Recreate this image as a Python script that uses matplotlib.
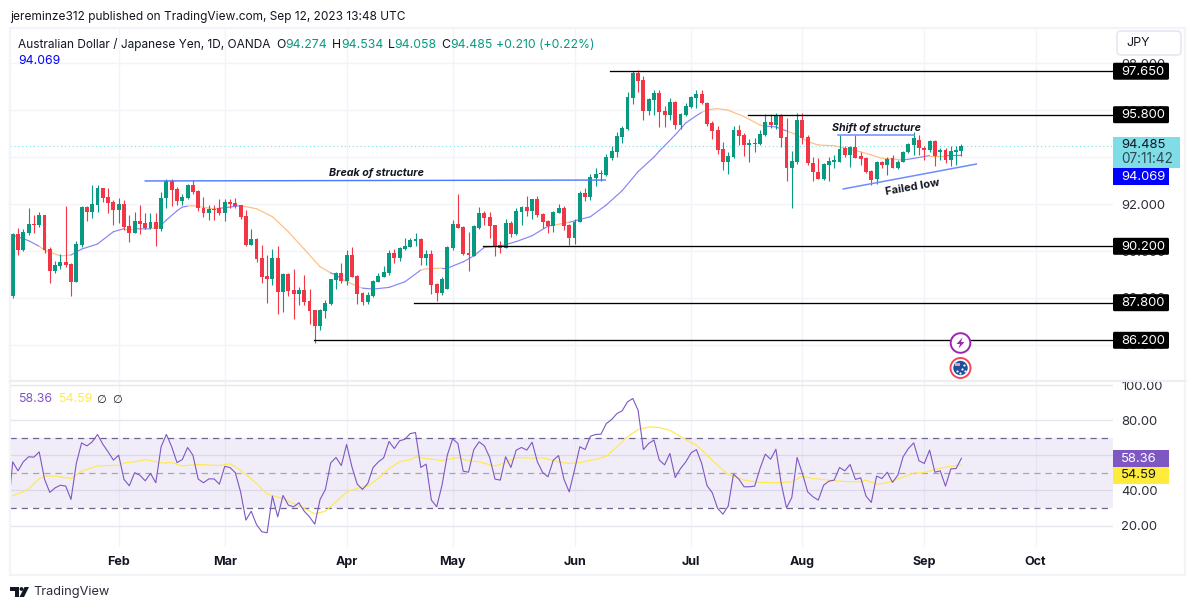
import numpy as np
import matplotlib
matplotlib.use('Agg')
import matplotlib.pyplot as plt
from matplotlib.patches import Rectangle, FancyBboxPatch, Circle, Polygon

plt.rcParams['font.family'] = ['Inter', 'DejaVu Sans']

W, H = 1195, 610

# daily candles, AUD/JPY, one row = 10 days
opens = [88.09, 90.72, 90.04, 90.75, 91.15, 91.1, 91.53, 90.08, 89.15, 89.36,
         89.53, 89.44, 88.69, 90.26, 91.88, 91.67, 91.96, 92.68, 92.3, 92.08,
         91.74, 92.0, 91.06, 90.78, 91.27, 91.19, 90.97, 91.23, 90.92, 92.25,
         92.98, 92.64, 92.13, 92.24, 92.81, 92.55, 91.84, 91.63, 91.8, 91.82,
         91.63, 92.09, 92.04, 91.96, 91.49, 90.25, 90.51, 89.7, 88.93, 88.8,
         89.7, 88.26, 89.02, 88.34, 88.17, 88.34, 87.87, 87.48, 86.8, 87.44,
         87.73, 88.76, 89.06, 88.72, 89.83, 88.93, 88.2, 87.83, 88.08, 88.69,
         88.9, 89.05, 89.9, 89.69, 90.08, 90.17, 90.42, 90.51, 89.71, 89.87,
         88.6, 88.2, 88.38, 90.11, 91.15, 91.03, 89.9, 89.8, 91.0, 91.63,
         91.45, 91.1, 90.25, 90.13, 91.2, 90.72, 91.66, 91.87, 91.7, 92.21,
         91.57, 91.28, 91.06, 91.62, 91.83, 91.1, 90.55, 91.23, 92.47, 92.3,
         93.11, 93.26, 93.23, 93.96, 94.21, 94.85, 95.19, 96.51, 97.58, 97.28,
         95.96, 96.43, 96.72, 95.96, 95.79, 96.34, 95.36, 95.79, 96.13, 96.51,
         96.68, 96.3, 95.45, 95.15, 94.34, 93.8, 94.0, 95.15, 94.94, 94.51,
         94.56, 94.56, 94.94, 95.49, 95.36, 95.75, 94.85, 93.53, 93.79, 95.58,
         94.83, 93.75, 93.36, 93.06, 93.66, 93.79, 93.79, 94.38, 94.09, 94.43,
         94.04, 93.96, 93.4, 93.06, 93.79, 93.66, 93.96, 93.53, 93.79, 94.21,
         94.51, 94.72, 94.38, 94.3, 94.68, 94.21, 94.3, 93.87, 94.21, 94.274]
closes = [90.72, 90.04, 90.81, 91.15, 91.1, 91.53, 90.04, 89.16, 89.4, 89.53,
          89.4, 88.69, 90.3, 91.88, 91.67, 92.0, 92.68, 92.27, 92.05, 91.74,
          92.0, 91.03, 90.78, 91.27, 91.15, 90.97, 91.25, 90.92, 92.25, 92.98,
          92.6, 92.14, 92.28, 92.82, 92.52, 91.82, 91.63, 91.79, 91.74, 91.6,
          92.09, 92.0, 91.91, 91.46, 90.25, 90.51, 89.67, 88.9, 88.8, 89.7,
          88.26, 89.03, 88.3, 88.17, 88.34, 87.82, 87.44, 86.8, 87.48, 87.77,
          88.8, 89.06, 88.72, 89.83, 88.9, 88.17, 87.83, 88.13, 88.72, 88.93,
          89.12, 89.9, 89.69, 90.13, 90.21, 90.47, 90.51, 89.71, 89.87, 88.55,
          88.2, 88.8, 90.18, 91.15, 91.0, 89.87, 89.83, 91.08, 91.63, 91.42,
          91.06, 90.21, 90.13, 91.18, 90.72, 91.7, 91.87, 91.7, 92.21, 91.53,
          91.23, 91.06, 91.66, 91.83, 91.06, 90.55, 91.23, 92.47, 92.3, 93.15,
          93.28, 93.28, 94.0, 94.26, 94.9, 95.23, 96.55, 97.58, 97.24, 95.96,
          96.47, 96.72, 95.92, 95.79, 96.34, 95.36, 95.83, 96.17, 96.55, 96.68,
          96.3, 95.39, 95.11, 94.3, 93.8, 94.04, 95.15, 94.9, 94.51, 94.6,
          94.6, 94.98, 95.49, 95.36, 95.75, 94.81, 93.53, 93.83, 95.58, 94.81,
          93.75, 93.36, 93.06, 93.7, 93.83, 93.87, 94.34, 94.09, 94.43, 93.96,
          93.92, 93.36, 93.02, 93.79, 93.66, 93.92, 93.53, 93.79, 94.21, 94.55,
          94.81, 94.38, 94.3, 94.68, 94.04, 94.3, 93.87, 94.26, 94.3, 94.485]
highs = [90.75, 90.98, 90.94, 91.83, 91.53, 91.66, 91.55, 90.15, 89.57, 89.86,
         91.9, 89.5, 90.42, 91.92, 91.9, 92.8, 92.81, 92.7, 92.68, 92.17,
         92.25, 92.17, 91.53, 91.65, 91.96, 91.6, 91.63, 91.6, 92.51, 93.06,
         93.06, 92.71, 92.43, 92.85, 93.02, 92.6, 92.31, 91.96, 91.96, 92.21,
         92.21, 92.2, 92.26, 91.96, 91.74, 90.92, 90.55, 90.25, 89.83, 90.08,
         90.21, 89.07, 89.07, 89.24, 88.48, 88.98, 88.38, 87.5, 87.52, 87.91,
         88.8, 89.1, 89.47, 90.04, 90.16, 88.98, 88.27, 88.27, 88.77, 89.07,
         89.36, 90.04, 90.07, 90.16, 90.54, 90.57, 90.78, 90.55, 90.04, 90.04,
         88.62, 88.88, 90.21, 91.32, 92.43, 91.06, 90.8, 91.12, 91.86, 91.71,
         91.67, 91.12, 90.42, 91.35, 91.28, 91.82, 91.92, 92.34, 92.21, 92.34,
         91.6, 91.3, 91.7, 92.0, 91.92, 91.15, 91.36, 92.55, 92.67, 93.28,
         93.53, 93.45, 94.13, 94.47, 95.06, 95.32, 96.75, 97.67, 97.69, 97.45,
         96.51, 96.85, 96.85, 96.15, 96.51, 96.38, 95.87, 96.3, 96.6, 96.85,
         96.85, 96.34, 95.53, 95.32, 94.64, 94.21, 95.32, 95.36, 95.01, 94.77,
         94.81, 95.15, 95.83, 95.83, 95.87, 95.83, 95.66, 94.26, 95.87, 95.87,
         94.94, 94.0, 93.96, 93.75, 94.0, 94.09, 94.94, 94.47, 94.47, 94.94,
         94.22, 94.0, 93.45, 93.83, 93.83, 94.0, 94.09, 93.87, 94.24, 94.6,
         95.06, 94.94, 94.47, 94.72, 94.72, 94.38, 94.38, 94.47, 94.47, 94.534]
lows = [88.0, 89.83, 90.0, 90.7, 90.78, 91.03, 89.93, 88.65, 89.08, 89.25,
        89.33, 88.08, 88.69, 90.16, 91.29, 91.42, 91.67, 92.08, 91.63, 91.1,
        91.2, 90.89, 90.38, 90.78, 90.72, 90.92, 90.92, 90.21, 90.86, 91.83,
        91.91, 91.96, 91.96, 92.21, 92.43, 91.71, 91.43, 91.32, 91.32, 91.53,
        91.29, 91.83, 91.83, 91.36, 90.21, 90.25, 89.54, 88.65, 87.8, 88.55,
        87.32, 87.42, 88.08, 87.12, 87.7, 87.7, 86.89, 86.07, 86.63, 87.13,
        87.7, 88.38, 88.62, 88.55, 88.88, 87.73, 87.7, 87.74, 88.05, 88.66,
        88.88, 88.98, 89.47, 89.58, 90.04, 90.17, 90.21, 89.4, 89.4, 88.17,
        87.87, 88.12, 88.38, 90.04, 90.97, 89.85, 89.16, 89.8, 90.94, 91.1,
        90.54, 89.8, 89.93, 90.13, 90.58, 90.68, 91.1, 91.49, 91.36, 91.43,
        90.97, 90.78, 90.82, 91.6, 90.89, 90.25, 90.3, 91.23, 92.13, 92.17,
        92.77, 92.98, 93.19, 93.87, 94.0, 94.6, 95.15, 96.26, 96.76, 95.58,
        95.79, 95.79, 95.28, 95.28, 95.58, 95.19, 95.19, 95.75, 96.1, 96.09,
        96.26, 95.32, 94.77, 94.13, 93.45, 93.28, 93.97, 94.51, 94.04, 93.79,
        94.22, 94.51, 94.9, 95.23, 95.19, 94.43, 92.98, 91.82, 93.7, 94.55,
        93.66, 92.98, 93.06, 93.04, 92.98, 93.53, 93.79, 94.0, 93.57, 93.94,
        93.66, 93.32, 92.81, 92.85, 93.53, 93.23, 93.53, 93.5, 93.77, 94.17,
        94.09, 94.09, 93.87, 94.21, 93.62, 93.87, 93.75, 93.62, 93.66, 94.058]

# moving average, read at these candle numbers
ma_days = [0, 3, 5, 6, 9, 11, 13, 16, 19, 21, 23, 25, 26, 27, 28, 29, 31, 32, 33, 34,
           38, 39, 40, 43, 46, 49, 52, 55, 58, 60, 61, 62, 64, 66, 68, 71, 74, 77, 78, 81,
           82, 85, 87, 89, 92, 95, 98, 101, 102, 104, 105, 106, 109, 112, 115, 118, 121, 122, 125, 127,
           129, 130, 131, 133, 135, 138, 141, 142, 144, 146, 148, 150, 152, 155, 157, 160, 162, 164, 166, 168,
           170, 173, 176, 179]
ma_vals = [90.68, 90.44, 90.2, 90.04, 89.79, 89.83, 90.08, 90.3, 90.82, 90.95, 90.95, 90.94, 90.95, 91.0, 91.1, 91.32, 91.71, 91.87, 91.91, 91.93,
           91.79, 91.82, 91.84, 91.93, 91.8, 91.46, 90.82, 90.08, 89.33, 89.07, 88.98, 88.82, 88.6, 88.42, 88.38, 88.45, 88.69, 89.19, 89.24, 89.27,
           89.27, 89.54, 89.79, 90.16, 90.21, 90.4, 90.65, 91.06, 91.1, 91.18, 91.22, 91.28, 91.46, 91.96, 92.57, 93.38, 94.0, 94.25, 94.94, 95.45,
           95.76, 95.9, 96.0, 96.06, 95.99, 95.72, 95.36, 95.32, 95.28, 95.11, 94.94, 94.65, 94.51, 94.48, 94.37, 94.22, 94.09, 93.94, 93.91, 93.87,
           93.94, 94.06, 94.06, 94.069]
ma_orange = [(5, 11), (21, 23), (26, 28), (33, 39), (43, 60), (62, 66), (77, 81),
             (102, 105), (130, 142), (146, 168), (173, 176)]

levels = [97.65, 95.8, 90.2, 87.8, 86.2]
level_start = [112.7, 138.7, 88.7, 75.7, 56.8]
last_price = 94.485
ma_last = 94.069

price_ticks = [98, 96, 94, 92, 90, 88, 86]
month_days = [20, 40, 63, 83, 106, 128, 149, 172, 193]
month_names = ['Feb', 'Mar', 'Apr', 'May', 'Jun', 'Jul', 'Aug', 'Sep', 'Oct']

bos_days, bos_vals = [25, 111.8], [92.98, 93.02]
sos_days, sos_vals = [155.7, 170], [94.94, 94.94]
failed_days, failed_vals = [156.7, 181.8], [92.64, 93.7]

# rsi starts one candle before the first one, it runs off the left edge
rsi = [24.0, 56.3, 51.2, 56.3, 59.2, 59.0, 62.0, 46.5, 38.9, 41.5, 43.0, 42.5, 34.9, 55.4, 67.1, 65.4, 67.7, 71.9, 66.4, 62.0,
       57.3, 60.1, 46.3, 42.7, 50.1, 48.7, 45.5, 49.7, 44.4, 64.9, 71.9, 64.9, 55.9, 57.6, 64.5, 60.1, 46.5, 44.4, 46.6, 46.6,
       43.6, 53.7, 53.1, 50.1, 39.2, 23.1, 28.2, 20.6, 16.5, 15.9, 36.8, 25.0, 37.2, 31.7, 30.7, 33.0, 28.2, 25.0, 20.8, 34.9,
       40.6, 55.7, 58.8, 54.2, 66.2, 53.5, 43.6, 40.6, 44.0, 53.1, 56.3, 58.6, 67.9, 63.9, 68.3, 69.2, 72.4, 73.0, 53.1, 55.0,
       34.5, 30.7, 43.0, 60.1, 69.4, 66.8, 51.0, 50.4, 63.3, 67.7, 65.4, 58.8, 46.5, 45.9, 59.2, 53.1, 63.0, 64.5, 63.0, 67.5,
       56.3, 50.2, 47.8, 57.3, 59.9, 46.5, 39.2, 51.6, 64.9, 63.3, 70.9, 71.9, 72.1, 78.1, 80.4, 83.8, 85.4, 90.5, 92.4, 85.7,
       63.3, 66.8, 68.7, 57.3, 54.6, 61.1, 47.4, 52.5, 56.3, 61.4, 63.3, 55.4, 42.8, 38.7, 29.8, 26.5, 31.1, 49.3, 46.5, 42.1,
       42.1, 42.5, 52.5, 60.7, 57.8, 63.5, 44.0, 30.1, 36.0, 58.8, 49.7, 39.2, 36.4, 34.5, 43.0, 45.3, 45.9, 53.1, 51.2, 54.8,
       46.3, 47.2, 36.8, 33.2, 48.2, 46.8, 50.4, 44.6, 48.7, 59.2, 63.9, 67.1, 56.9, 55.4, 63.0, 50.4, 51.2, 42.5, 52.3, 52.5, 58.36]

rsi_ma_days = [0, 2, 3, 5, 6, 8, 11, 13, 16, 20, 21, 23, 25, 28, 30, 32, 35, 39, 41, 43,
               46, 48, 51, 55, 57, 59, 61, 63, 65, 67, 69, 71, 73, 75, 76, 78, 81, 84, 86, 88,
               91, 93, 95, 98, 100, 103, 105, 107, 110, 112, 114, 116, 118, 120, 122, 124, 127, 129, 131, 133,
               135, 138, 141, 144, 147, 149, 151, 154, 157, 160, 161, 163, 165, 167, 170, 172, 174, 176, 179]
rsi_ma = [37.0, 39.2, 40.9, 46.8, 48.2, 48.2, 46.8, 51.0, 54.0, 54.4, 55.7, 56.3, 57.6, 55.7, 55.9, 54.0, 54.8, 54.2, 55.2, 51.6,
          44.0, 37.9, 35.4, 29.8, 26.7, 28.2, 33.5, 39.1, 41.3, 42.5, 46.8, 52.5, 56.3, 57.6, 59.2, 58.2, 57.1, 58.8, 56.9, 56.3,
          53.9, 55.9, 58.8, 58.4, 58.6, 56.3, 55.4, 55.9, 57.8, 59.4, 64.9, 70.6, 74.7, 76.2, 75.9, 74.3, 69.0, 65.8, 60.1, 54.4,
          49.1, 45.9, 44.6, 44.4, 44.9, 48.2, 46.8, 45.9, 45.1, 44.9, 45.9, 43.6, 44.4, 46.5, 49.9, 50.2, 52.0, 53.3, 54.59]
rsi_ticks = [100, 80, 60, 40, 20]

GREEN = '#089981'
RED = '#f23645'
GRID = '#f2f4fa'
TEXT = '#131722'


def px_axes(left, top, right, bottom):
    a = fig.add_axes([left / W, 1 - bottom / H, (right - left) / W, (bottom - top) / H])
    a.patch.set_visible(False)
    for s in a.spines.values():
        s.set_visible(False)
    a.set_xlim((left - 12.7) / 5.3, (right - 12.7) / 5.3)
    return a


fig = plt.figure(figsize=(W / 100, H / 100), dpi=100, facecolor='white')

# price pane
ax = px_axes(10, 29, 1113, 381)
ax.set_ylim(84.468, 99.447)
days = np.arange(len(opens))
o, c = np.array(opens), np.array(closes)
colors = [GREEN if c[i] >= o[i] else RED for i in days]
ax.vlines(days, lows, highs, colors=colors, linewidth=0.8, zorder=3)
ax.bar(days, np.maximum(np.abs(c - o), 0.045), bottom=np.minimum(o, c), width=0.74,
       color=colors, linewidth=0, zorder=3)

for k in range(len(ma_days) - 1):
    mid = (ma_days[k] + ma_days[k + 1]) / 2
    orange = any(a <= mid <= b for a, b in ma_orange)
    ax.plot(ma_days[k:k + 2], ma_vals[k:k + 2], color='#ffbe80' if orange else '#8585f7',
            linewidth=0.85, solid_capstyle='round', zorder=2)

ax.axhline(last_price, color='#7fdde7', linewidth=0.8, linestyle=(0, (1, 2.5)), zorder=1)
for lv, st in zip(levels, level_start):
    ax.plot([st, ax.get_xlim()[1]], [lv, lv], color='black', linewidth=0.95, zorder=4)

ax.plot(bos_days, bos_vals, color='#4a78ff', linewidth=1.0, zorder=4)
ax.plot(sos_days, sos_vals, color='#6f8cff', linewidth=1.1, zorder=4)
ax.plot(failed_days, failed_vals, color='#6f8cff', linewidth=1.1, zorder=4)
ax.text(68.7, 93.3, 'Break of structure', fontsize=7.7, style='italic', fontweight='bold',
        ha='center', va='center', color=TEXT, zorder=5)
ax.text(163, 95.23, 'Shift of structure', fontsize=7.7, style='italic', fontweight='bold',
        ha='center', va='center', color=TEXT, zorder=5)
ax.text(169.8, 92.72, 'Failed low', fontsize=8, fontweight='bold', rotation=10,
        ha='center', va='center', color=TEXT, zorder=5)

ax.set_yticks(price_ticks)
ax.set_yticklabels(['%.3f' % p for p in price_ticks])
ax.set_xticks(month_days)
ax.tick_params(axis='x', length=0, labelbottom=False)
ax.tick_params(axis='y', length=0, left=False, labelleft=False, right=False, labelright=True,
               pad=5.8, labelsize=9.4, labelcolor='#2a2e39')
ax.grid(True, color=GRID, linewidth=1.0, zorder=0)
ax.set_axisbelow(True)

# rsi pane
ax2 = px_axes(10, 382, 1113, 547)
ax2.set_ylim(7.8, 101.8)
ax2.axhspan(30, 70, color='#7e57c2', alpha=0.1, linewidth=0, zorder=1)
ax2.axhline(70, color='#6f6390', linewidth=0.9, linestyle=(0, (5, 4)), zorder=2)
ax2.axhline(30, color='#6f6390', linewidth=0.9, linestyle=(0, (5, 4)), zorder=2)
ax2.axhline(50, color='#a8a4b4', linewidth=0.9, linestyle=(0, (5, 4)), zorder=2)
ax2.plot(np.arange(-1, len(rsi) - 1), rsi, color='#7e57c2', linewidth=0.8, zorder=4)
ax2.plot(rsi_ma_days, rsi_ma, color='#ffe94f', linewidth=0.85, zorder=3)
ax2.set_yticks(rsi_ticks)
ax2.set_yticklabels(['%.2f' % p for p in rsi_ticks])
ax2.set_xticks(month_days)
ax2.set_xticklabels(month_names)
ax2.tick_params(axis='x', length=0, pad=6.5, labelsize=9, labelcolor=TEXT)
for lab in ax2.get_xticklabels():
    lab.set_fontweight('bold')
ax2.tick_params(axis='y', length=0, left=False, labelleft=False, right=False, labelright=True,
                pad=5.8, labelsize=9.4, labelcolor='#2a2e39')
ax2.grid(True, color=GRID, linewidth=1.0, zorder=0)
ax2.yaxis.grid(True, color='#e6e6ee', linewidth=1.0)
ax2.set_axisbelow(True)

# everything around the panes, in pixels
ov = fig.add_axes([0, 0, 1, 1], zorder=10)
ov.set_xlim(0, W)
ov.set_ylim(H, 0)
ov.axis('off')
ov.patch.set_visible(False)


def price_px(a, v):
    return H - a.transData.transform((0, v))[1]


ov.add_patch(Rectangle((10, 28), 1175, 547, fill=False, edgecolor=GRID, linewidth=1.6))
ov.plot([10, 1185], [381, 381], color='#eceef4', linewidth=1.6)

ov.text(10, 17, 'jereminze312 published on TradingView.com, Sep 12, 2023 13:48 UTC',
        fontsize=8.55, color=TEXT, va='center')
ov.text(18, 44.5, 'Australian Dollar / Japanese Yen, 1D, OANDA', fontsize=8.55, color=TEXT, va='center')
header = [(276, 'O', TEXT), (285.5, '94.274', GREEN), (332, 'H', TEXT), (341, '94.534', GREEN),
          (388, 'L', TEXT), (394, '94.058', GREEN), (441, 'C', TEXT), (450, '94.485', GREEN),
          (496, '+0.210 (+0.22%)', GREEN)]
for xp, s, col in header:
    ov.text(xp, 44.5, s, fontsize=8.8, color=col, va='center')
ov.text(18, 61.5, '94.069', fontsize=8.8, color='#0000ff', va='center')

ov.add_patch(FancyBboxPatch((1117, 31), 64, 24, boxstyle='round,pad=0,rounding_size=4',
                            facecolor='white', edgecolor='#e6e8f0', linewidth=1.2))
ov.text(1126, 43.5, 'JPY', fontsize=9, color=TEXT, va='center')

for lv in levels:
    yp = price_px(ax, lv)
    ov.add_patch(FancyBboxPatch((1113, yp - 8.5), 56, 17, boxstyle='round,pad=0,rounding_size=1.5',
                                facecolor='black', edgecolor='none'))
    ov.text(1121, yp + 0.3, '%.3f' % lv, fontsize=9.4, color='white', va='center')

ov.add_patch(Rectangle((1113, 137), 67, 31, facecolor='#7fdde7', edgecolor='none'))
ov.text(1121, 145.5, '%.3f' % last_price, fontsize=9.4, color=TEXT, va='center')
ov.text(1121, 159, '07:11:42', fontsize=9.8, color='#2f4a52', va='center')
ov.add_patch(Rectangle((1113, 168), 56, 17, facecolor='#0000ff', edgecolor='none'))
ov.text(1121, 176.5, '%.3f' % ma_last, fontsize=9.4, color='white', va='center')

ov.add_patch(Rectangle((1113, 450), 56, 17, facecolor='#7e57c2', edgecolor='none'))
ov.text(1121, 458.5, '%.2f' % rsi[-1], fontsize=9.4, color='white', va='center')
ov.add_patch(Rectangle((1113, 467), 56, 17, facecolor='#ffeb3b', edgecolor='none'))
ov.text(1121, 475.5, '%.2f' % rsi_ma[-1], fontsize=9.4, color=TEXT, va='center')

ov.text(18, 399.5, '%.2f' % rsi[-1], fontsize=8.9, color='#7e57c2', va='center')
ov.text(58, 399.5, '%.2f' % rsi_ma[-1], fontsize=8.9, color='#ffe94f', va='center')
ov.text(101.5, 400, '∅', fontsize=8, color=TEXT, va='center', ha='center', family='DejaVu Sans')
ov.text(117, 400, '∅', fontsize=8, color=TEXT, va='center', ha='center', family='DejaVu Sans')

# event icons
ov.add_patch(Circle((960.5, 343), 9.8, facecolor='white', edgecolor='#9c27b0', linewidth=1.4))
ov.add_patch(Polygon([[962.5, 337.5], [956.5, 344], [960, 344], [958.5, 348.5], [964.5, 342], [961, 342]],
                     facecolor='#9c27b0', edgecolor='none'))
ov.add_patch(Circle((960.5, 368), 10, facecolor='white', edgecolor='#f2485a', linewidth=1.4))
ov.add_patch(Circle((960.5, 368), 7.2, facecolor='#1c4f9c', edgecolor='none'))
ov.add_patch(Rectangle((955.5, 362.5), 5, 3, facecolor='#e8a0a8', edgecolor='none'))
ov.scatter([957, 964, 962, 965, 960], [371, 365, 369, 371, 373], s=2.5, color='white', linewidths=0)

# logo and wordmark
ov.add_patch(Polygon([[10, 587], [19, 587], [19, 597], [15, 597], [15, 591], [10, 591]],
                     facecolor=TEXT, edgecolor='none'))
ov.add_patch(Circle((21.5, 589), 1.9, facecolor=TEXT, edgecolor='none'))
ov.add_patch(Polygon([[24.5, 587], [29, 587], [24, 597], [19.5, 597]], facecolor=TEXT, edgecolor='none'))
ov.text(33.5, 592.5, 'TradingView', fontsize=9.2, color='#2a2e39', va='center')

fig.savefig('out.png', dpi=100, facecolor='white')
